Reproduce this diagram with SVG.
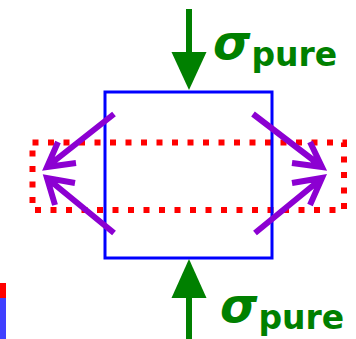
<svg xmlns="http://www.w3.org/2000/svg" width="356" height="339" viewBox="0 0 356 339">
<style>
.force{stroke:#008000;stroke-width:6;fill:none}
.head{fill:#008000}
.sig{font-family:"DejaVu Sans",sans-serif;font-weight:bold;font-style:italic;font-size:48px;fill:#008000}
.sub{font-family:"DejaVu Sans",sans-serif;font-weight:bold;font-size:33px;fill:#008000}
.flow{stroke:#8c00d2;stroke-width:6;fill:none;stroke-linecap:butt;stroke-linejoin:miter}
</style>
<rect width="356" height="339" fill="#ffffff"/>
<g id="legend-bar">
<rect x="0" y="283" width="6" height="15" fill="#ff0000"/>
<rect x="0" y="298" width="6" height="41" fill="#4040ff"/>
</g>
<g id="band">
<rect x="32.5" y="142.5" width="311.5" height="67.5" fill="none" stroke="#ff0000" stroke-width="6" stroke-dasharray="6 9.5"/>
</g>
<g id="block">
<rect x="105" y="92" width="167" height="166" fill="none" stroke="#0000ff" stroke-width="3"/>
</g>
<g id="connectors">
<line class="force" x1="189" y1="9" x2="189" y2="55"/>
<polygon class="head" points="171.5,52 206.5,52 189,90"/>
<line class="force" x1="189" y1="295" x2="189" y2="339"/>
<polygon class="head" points="171.5,298 206.5,298 189,259"/>
<path class="flow" d="M114,114 L48,166 M58,142 L47,167 L76,163"/>
<path class="flow" d="M114,233 L48,179 M55,205 L47,178 L75,183"/>
<path class="flow" d="M253,114 L321,166 M310,142 L322,167 L292,163"/>
<path class="flow" d="M255,233 L321,179 M310,205 L322,178 L292,183"/>
</g>
<g id="label-top">
<text x="213" y="59"><tspan class="sig">σ</tspan><tspan class="sub" dx="1" dy="7">pure</tspan></text>
</g>
<g id="label-bottom">
<text x="220" y="322"><tspan class="sig">σ</tspan><tspan class="sub" dx="1" dy="7">pure</tspan></text>
</g>
</svg>
